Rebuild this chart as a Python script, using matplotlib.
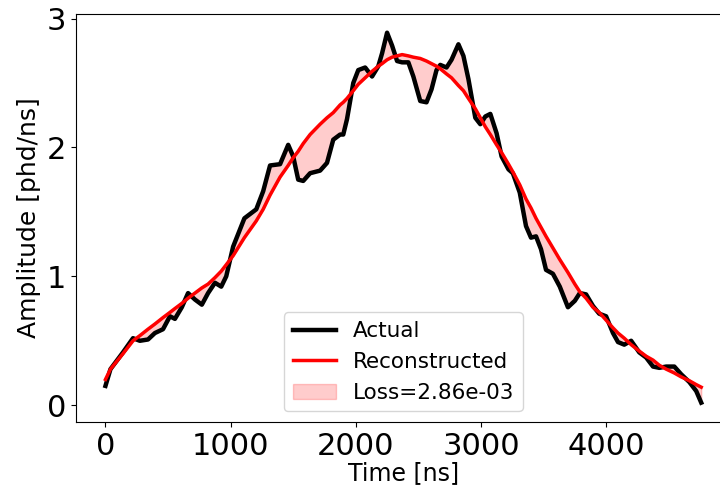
import numpy as np
import matplotlib
matplotlib.use("Agg")
import matplotlib.pyplot as plt

# time axis in ns
time_ns = [0, 40, 140, 220, 275, 340, 395, 460, 515, 555, 610, 660, 715, 770, 820, 875,
           925, 965, 1020, 1110, 1205, 1260, 1315, 1395, 1460, 1500, 1540, 1580, 1635,
           1715, 1770, 1820, 1875, 1900, 1930, 1980, 2020, 2075, 2130, 2180, 2210, 2250,
           2290, 2330, 2370, 2420, 2460, 2515, 2565, 2605, 2645, 2675, 2725, 2765, 2820,
           2860, 2900, 2955, 2995, 3035, 3075, 3125, 3165, 3220, 3255, 3310, 3360, 3400,
           3440, 3480, 3520, 3575, 3630, 3695, 3750, 3790, 3840, 3895, 3945, 4000, 4055,
           4095, 4145, 4200, 4265, 4320, 4375, 4425, 4480, 4545, 4600, 4665, 4720, 4760]

actual = [0.15, 0.28, 0.41, 0.52, 0.50, 0.51, 0.56, 0.59, 0.69, 0.67, 0.76, 0.87, 0.82, 0.78,
          0.87, 0.95, 0.92, 1.00, 1.23, 1.45, 1.52, 1.66, 1.86, 1.87, 2.02, 1.93, 1.75, 1.74,
          1.80, 1.82, 1.88, 2.06, 2.10, 2.10, 2.22, 2.50, 2.60, 2.62, 2.55, 2.63, 2.73, 2.89,
          2.79, 2.67, 2.66, 2.66, 2.55, 2.36, 2.35, 2.45, 2.60, 2.64, 2.62, 2.68, 2.80, 2.71,
          2.53, 2.23, 2.18, 2.24, 2.26, 2.11, 1.93, 1.83, 1.80, 1.65, 1.39, 1.30, 1.31, 1.21,
          1.05, 1.02, 0.92, 0.76, 0.81, 0.87, 0.86, 0.77, 0.71, 0.69, 0.56, 0.49, 0.47, 0.50,
          0.41, 0.37, 0.30, 0.29, 0.30, 0.30, 0.24, 0.18, 0.11, 0.02]

reconstructed = [0.20, 0.28, 0.40, 0.50, 0.54, 0.59, 0.63, 0.68, 0.72, 0.75, 0.79, 0.83, 0.87,
                 0.91, 0.94, 0.99, 1.04, 1.09, 1.16, 1.30, 1.43, 1.52, 1.63, 1.77, 1.86, 1.92,
                 1.97, 2.03, 2.10, 2.18, 2.23, 2.27, 2.33, 2.35, 2.38, 2.44, 2.49, 2.54, 2.59,
                 2.63, 2.65, 2.68, 2.70, 2.71, 2.72, 2.71, 2.70, 2.69, 2.67, 2.65, 2.63, 2.61,
                 2.57, 2.54, 2.48, 2.44, 2.38, 2.30, 2.23, 2.16, 2.10, 2.02, 1.96, 1.87, 1.81,
                 1.71, 1.60, 1.53, 1.45, 1.38, 1.31, 1.22, 1.13, 1.03, 0.94, 0.88, 0.83, 0.76,
                 0.72, 0.66, 0.60, 0.56, 0.52, 0.47, 0.42, 0.38, 0.35, 0.31, 0.28, 0.25, 0.22,
                 0.19, 0.16, 0.14]

loss = 2.86e-03

t = np.array(time_ns)
y_act = np.array(actual)
y_rec = np.array(reconstructed)

fig = plt.figure(figsize=(7.2, 4.86), dpi=100)
# axes runs slightly past the right edge, like the cropped original
ax = fig.add_axes([0.1051, 0.1317, 0.9102, 0.8395])

ax.plot(t, y_act, color='black', linewidth=3.2, label='Actual')
ax.plot(t, y_rec, color='red', linewidth=2.5, label='Reconstructed')
ax.fill_between(t, y_act, y_rec, color='red', alpha=0.2, label=f'Loss={loss:.2e}')

ax.set_xlim(-238, 4998)
ax.set_ylim(-0.13, 3.035)
ax.set_xticks([0, 1000, 2000, 3000, 4000])
ax.set_yticks([0, 1, 2, 3])
ax.tick_params(labelsize=22)

ax.set_xlabel('Time [ns]', fontsize=17, labelpad=0)
ax.set_ylabel('Amplitude [phd/ns]', fontsize=18)

ax.legend(loc='lower center', fontsize=15.5)

fig.savefig('out.png', dpi=100)
